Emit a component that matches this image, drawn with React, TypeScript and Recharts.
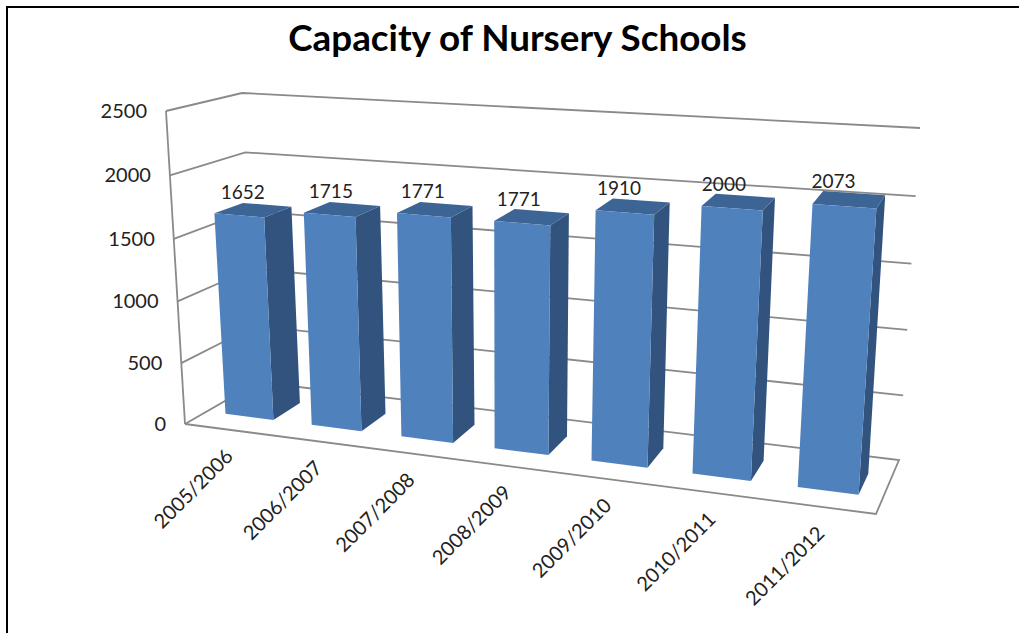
import { BarChart, Bar, XAxis, YAxis, LabelList, CartesianGrid } from "recharts";

const categories = ["2005/2006", "2006/2007", "2007/2008", "2008/2009", "2009/2010", "2010/2011", "2011/2012"];
const capacity = [1652, 1715, 1771, 1771, 1910, 2000, 2073];
const yTicks = [0, 500, 1000, 1500, 2000, 2500];

const data = categories.map((year, i) => ({ year, capacity: capacity[i] }));

const FONT = "Lato, 'Open Sans', sans-serif";
const LINE = "#8a8a8a";

// flat plot area handed to recharts, warped afterwards into the 3D box
const PLOT = { left: 100, right: 900, top: 50, bottom: 550 };

// box corners on screen, named [u][v][w] = across, up, depth
const C: Record<string, number[]> = {
  "000": [185, 424],
  "100": [876, 514],
  "001": [258, 382],
  "101": [899, 460],
  "010": [166, 111],
  "110": [900, 158],
  "011": [242, 93],
  "111": [920, 128],
};

// depth range taken up by the bars
const W0 = 0.3;
const W1 = 0.69;

const warp = (t: number, k: number) => t / (t + (1 - t) * k);

function project(uRaw: number, vRaw: number, w: number) {
  const u = warp(uRaw, 1.15);
  const v = warp(vRaw, 1.035);
  const out = [0, 0];
  for (const a of [0, 1]) {
    for (const b of [0, 1]) {
      for (const c of [0, 1]) {
        const f = (a ? u : 1 - u) * (b ? v : 1 - v) * (c ? w : 1 - w);
        const p = C[`${a}${b}${c}`];
        out[0] += f * p[0];
        out[1] += f * p[1];
      }
    }
  }
  return out;
}

const toU = (x: number) => (x - PLOT.left) / (PLOT.right - PLOT.left);
const toV = (y: number) => (PLOT.bottom - y) / (PLOT.bottom - PLOT.top);
const pts = (list: number[][]) => list.map((p) => `${p[0].toFixed(1)},${p[1].toFixed(1)}`).join(" ");

function Bar3D(props: any) {
  const { x, y, width } = props;
  const u0 = toU(x);
  const u1 = toU(x + width);
  const v = toV(y);
  return (
    <g>
      <polygon
        points={pts([project(u1, 0, W0), project(u1, 0, W1), project(u1, v, W1), project(u1, v, W0)])}
        fill="#31537D"
      />
      <polygon
        points={pts([project(u0, v, W0), project(u1, v, W0), project(u1, v, W1), project(u0, v, W1)])}
        fill="#3C6595"
      />
      <polygon
        points={pts([project(u0, 0, W0), project(u1, 0, W0), project(u1, v, W0), project(u0, v, W0)])}
        fill="#4F81BD"
      />
    </g>
  );
}

// one grid level: side wall + back wall, the zero level also closes the floor and the left edge
function GridLevel(props: any) {
  const v = toV(props.y1);
  const floor = Math.abs(v) < 0.001;
  return (
    <g key={props.key}>
      <polyline
        points={pts(
          floor
            ? [project(0, 0, 0), project(0, 0, 1), project(1, 0, 1), project(1, 0, 0), project(0, 0, 0)]
            : [project(0, v, 0), project(0, v, 1), project(1, v, 1)]
        )}
        fill="none"
        stroke={LINE}
        strokeWidth={1.8}
      />
      {floor && <polyline points={pts([project(0, 0, 0), project(0, 1, 0)])} fill="none" stroke={LINE} strokeWidth={1.8} />}
    </g>
  );
}

function YTick(props: any) {
  const { y, payload } = props;
  const front = project(0, toV(y), 0);
  return (
    <text
      x={front[0] - 19}
      y={front[1] + 2}
      textAnchor="end"
      dominantBaseline="middle"
      fontFamily={FONT}
      fontSize={20}
      fill="#222"
    >
      {payload.value}
    </text>
  );
}

function XTick(props: any) {
  const { x, payload } = props;
  const p = project(toU(x), 0, 0);
  const ax = p[0] + 6;
  const ay = p[1] + 28;
  return (
    <text
      x={ax}
      y={ay}
      textAnchor="end"
      transform={`rotate(-45 ${ax} ${ay})`}
      fontFamily={FONT}
      fontSize={20}
      fill="#222"
    >
      {payload.value}
    </text>
  );
}

function BarValue(props: any) {
  const { x, y, width, value } = props;
  const u = toU(x + width / 2);
  const p = project(u, toV(y), (W0 + W1) / 2);
  return (
    <text
      x={p[0] - 10 - 6 * u}
      y={p[1] - 16}
      textAnchor="middle"
      dominantBaseline="middle"
      fontFamily={FONT}
      fontSize={19}
      fill="#222"
    >
      {value}
    </text>
  );
}

export default function App() {
  return (
    <div style={{ position: "absolute", left: 0, top: 0, width: 1019, height: 633, background: "#fff", overflow: "hidden" }}>
      <div
        style={{
          position: "absolute",
          left: 6,
          top: 6,
          right: 0,
          bottom: 0,
          borderTop: "2px solid #000",
          borderLeft: "2px solid #000",
        }}
      />
      <div
        style={{
          position: "absolute",
          left: 0,
          width: 1035,
          top: 15,
          textAlign: "center",
          fontFamily: FONT,
          fontWeight: 700,
          fontSize: 36.8,
          lineHeight: "44px",
          color: "#000",
        }}
      >
        Capacity of Nursery Schools
      </div>
      <div style={{ position: "absolute", left: 0, top: 0 }}>
        <BarChart
          width={1019}
          height={633}
          data={data}
          barCategoryGap="22%"
          margin={{ left: 40, right: 119, top: 50, bottom: 53 }}
        >
          <CartesianGrid vertical={false} horizontal={(p: any) => <GridLevel {...p} />} />
          <YAxis
            width={60}
            domain={[0, 2500]}
            ticks={yTicks}
            interval={0}
            axisLine={false}
            tickLine={false}
            tick={(p: any) => <YTick {...p} />}
          />
          <XAxis
            dataKey="year"
            height={30}
            interval={0}
            axisLine={false}
            tickLine={false}
            tick={(p: any) => <XTick {...p} />}
          />
          <Bar dataKey="capacity" isAnimationActive={false} shape={(p: any) => <Bar3D {...p} />}>
            <LabelList dataKey="capacity" content={(p: any) => <BarValue {...p} />} />
          </Bar>
        </BarChart>
      </div>
    </div>
  );
}
